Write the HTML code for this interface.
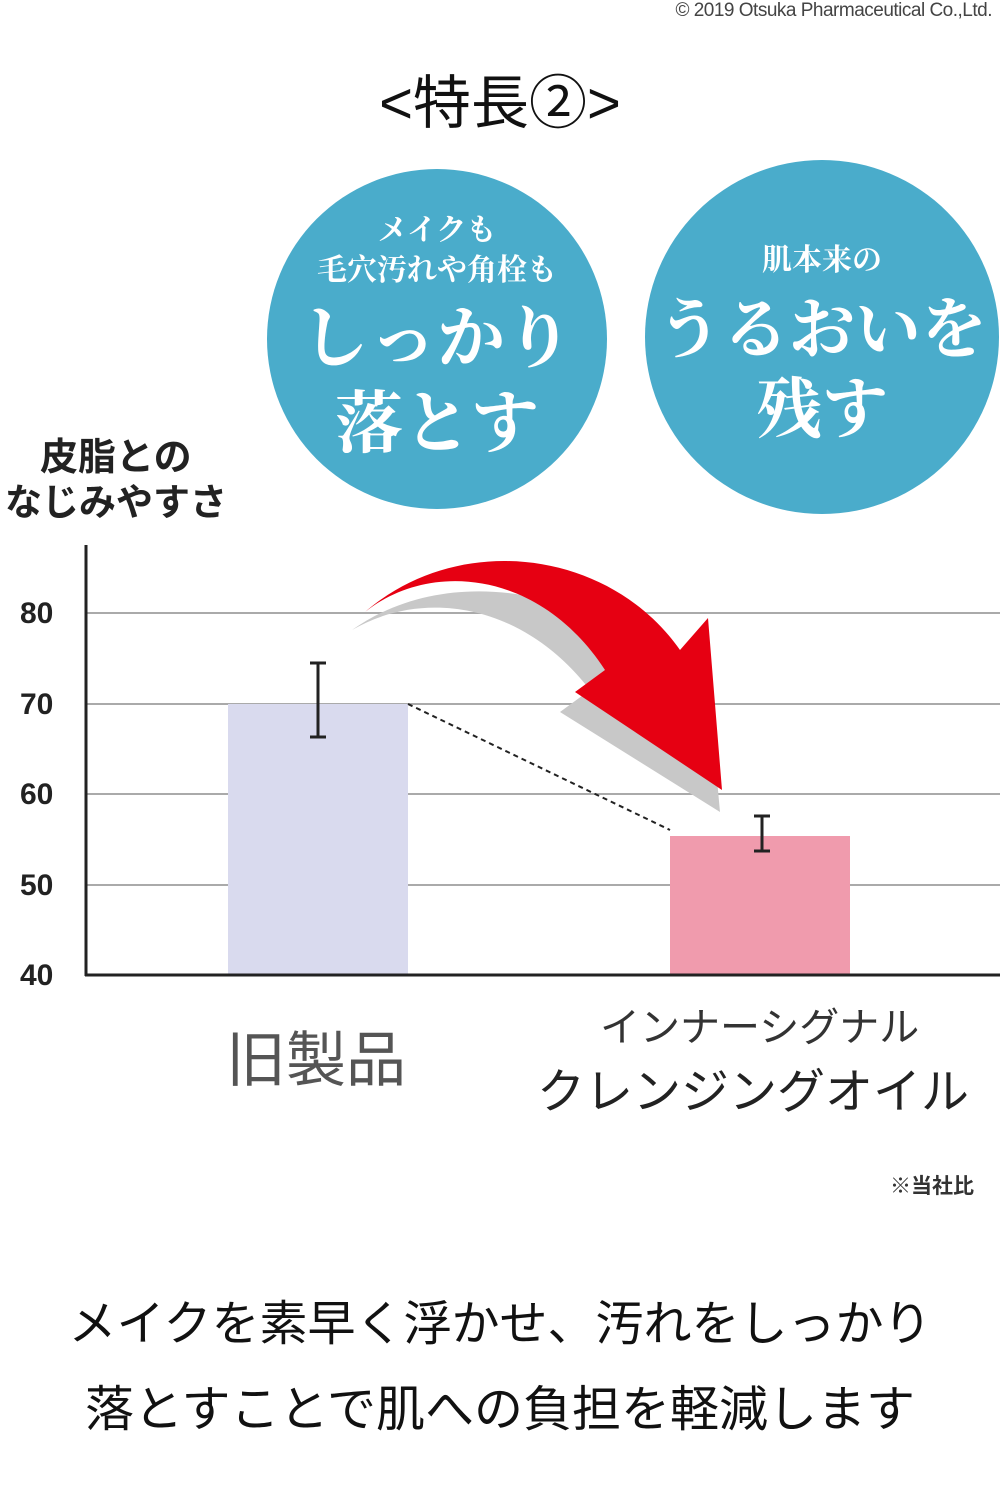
<!DOCTYPE html>
<html><head><meta charset="utf-8"><style>
body{margin:0;width:1000px;height:1500px;background:#fff;overflow:hidden;position:relative;font-family:"Liberation Sans","Noto Sans CJK JP",sans-serif;}
.t{position:absolute;white-space:nowrap;}
</style></head><body>
<div class="t" style="right:8px;top:0px;font-size:19px;color:#444;letter-spacing:-0.5px;">© 2019 Otsuka Pharmaceutical Co.,Ltd.</div>
<div class="t" style="left:0;width:1000px;text-align:center;top:56px;font-size:58px;color:#111;">&lt;特長②&gt;</div>
<svg width="1000" height="1500" style="position:absolute;left:0;top:0" xmlns="http://www.w3.org/2000/svg">
<circle cx="437" cy="339" r="170" fill="#4aaccb"/>
<circle cx="822" cy="337" r="177" fill="#4aaccb"/>
<g font-family="'Noto Serif CJK SC','Noto Serif CJK JP',serif" fill="#fff" text-anchor="middle" font-weight="bold">
<text x="437" y="240" font-size="30">メイクも</text>
<text x="437" y="280" font-size="30">毛穴汚れや角栓も</text>
<text x="437" y="362" font-size="68">しっかり</text>
<text x="437" y="447" font-size="68">落とす</text>
<text x="822" y="270" font-size="30">肌本来の</text>
<text x="822" y="352" font-size="66">うるおいを</text>
<text x="822" y="432" font-size="66">残す</text>
</g>
<g stroke="#aaa" stroke-width="2">
<line x1="85" y1="613" x2="1000" y2="613"/>
<line x1="85" y1="704" x2="1000" y2="704"/>
<line x1="85" y1="794" x2="1000" y2="794"/>
<line x1="85" y1="885" x2="1000" y2="885"/>
</g>
<rect x="228" y="704" width="180" height="271" fill="#d9daee"/>
<rect x="670" y="836" width="180" height="139" fill="#f09bad"/>
<line x1="85" y1="975" x2="1000" y2="975" stroke="#222" stroke-width="3"/>
<line x1="86" y1="545" x2="86" y2="976" stroke="#222" stroke-width="3"/>
<line x1="408" y1="704" x2="670" y2="830" stroke="#222" stroke-width="2" stroke-dasharray="5,4"/>
<g stroke="#222" stroke-width="3">
<line x1="318" y1="663" x2="318" y2="737"/><line x1="310" y1="663" x2="326" y2="663"/><line x1="310" y1="737" x2="326" y2="737"/>
<line x1="762" y1="816" x2="762" y2="851"/><line x1="754" y1="816" x2="770" y2="816"/><line x1="754" y1="851" x2="770" y2="851"/>
</g>
<path d="M352,630 C420,590 520,600 590,690 L560,712 L720,812 L705,648 L672,680 C600,590 450,560 352,630 Z" fill="#c8c8c8"/>
<path d="M365,612 C430,560 540,570 605,670 L575,692 L722,790 L708,618 L680,650 C610,550 460,530 365,612 Z" fill="#e60012"/>
<g font-weight="bold" font-size="30" fill="#222">
<text x="20" y="623">80</text><text x="20" y="714">70</text><text x="20" y="804">60</text><text x="20" y="895">50</text><text x="20" y="985">40</text>
</g>
</svg>
<div class="t" style="left:40px;top:426px;font-size:38px;font-weight:bold;color:#222;">皮脂との</div>
<div class="t" style="left:5px;top:472px;font-size:37px;font-weight:bold;color:#222;">なじみやすさ</div>
<div class="t" style="left:226px;top:1012px;font-size:60px;color:#555;">旧製品</div>
<div class="t" style="left:600px;top:995px;font-size:40px;color:#333;">インナーシグナル</div>
<div class="t" style="left:537px;top:1052px;font-size:48px;color:#222;">クレンジングオイル</div>
<div class="t" style="left:890px;top:1170px;font-size:21px;font-weight:bold;color:#333;">※当社比</div>
<div class="t" style="left:0;width:1000px;text-align:center;top:1284px;font-size:48px;color:#111;">メイクを素早く浮かせ、汚れをしっかり</div>
<div class="t" style="left:0;width:1000px;text-align:center;top:1370px;font-size:49px;color:#111;">落とすことで肌への負担を軽減します</div>
</body></html>
